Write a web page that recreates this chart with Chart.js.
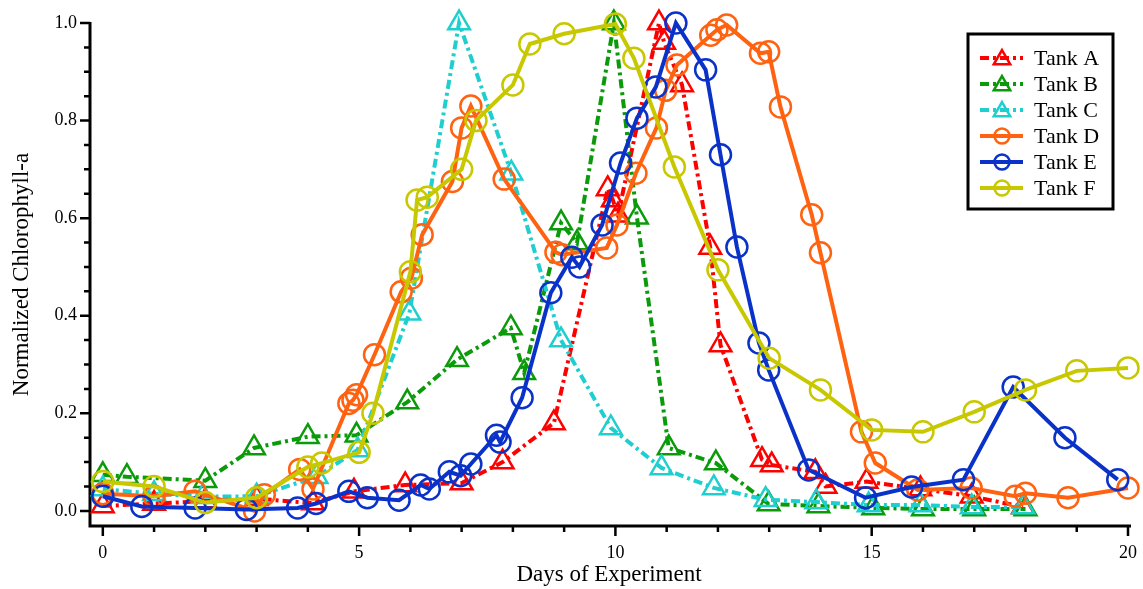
<!DOCTYPE html>
<html>
<head>
<meta charset="utf-8">
<title>Normalized Chlorophyll-a</title>
<script src="https://cdn.jsdelivr.net/npm/chart.js@4/dist/chart.umd.min.js"></script>
<style>
  html, body { margin: 0; padding: 0; background: #fff; }
  #wrap { width: 1143px; height: 589px; }
</style>
</head>
<body>
<div id="wrap"><canvas id="chl" width="1143" height="589"></canvas></div>
<script>
// days of experiment and normalized chlorophyll-a per tank
const tankA_days = [0, 1, 2, 3, 4.1, 4.9, 5.9, 7.0, 7.8, 8.8, 9.85, 9.95, 10.05, 10.85, 10.95, 11.3, 11.85, 12.05, 12.86, 13.05, 13.9, 14.1, 14.9, 15.95, 16.95, 17.95]
const tankA_chl  = [0.01, 0.015, 0.02, 0.025, 0.016, 0.04, 0.053, 0.057, 0.10, 0.18, 0.66, 0.637, 0.606, 1.0, 0.96, 0.873, 0.54, 0.34, 0.105, 0.094, 0.08, 0.05, 0.06, 0.045, 0.03, 0.008]

const tankB_days = [0, 0.47, 2, 2.95, 4.0, 4.95, 5.94, 6.91, 7.96, 8.22, 8.94, 9.25, 9.97, 10.42, 11.04, 11.96, 12.99, 13.96, 15.03, 16.0, 17.0, 18.0]
const tankB_chl  = [0.074, 0.07, 0.062, 0.129, 0.152, 0.155, 0.223, 0.31, 0.375, 0.283, 0.59, 0.549, 1.0, 0.602, 0.129, 0.098, 0.014, 0.01, 0.006, 0.004, 0.004, 0.004]

const tankC_days = [0, 1, 1.95, 3, 4.17, 4.97, 5.98, 6.95, 7.97, 8.94, 9.91, 10.9, 11.92, 12.93, 13.92, 14.94, 15.95, 16.95, 17.96]
const tankC_chl  = [0.045, 0.035, 0.029, 0.03, 0.07, 0.125, 0.405, 1.0, 0.692, 0.35, 0.17, 0.088, 0.047, 0.023, 0.018, 0.012, 0.012, 0.008, 0.008]

const tankD_days = [0, 1, 1.8, 2.96, 3.15, 3.84, 4.1, 4.8, 4.88, 4.95, 5.3, 5.82, 6.02, 6.23, 6.82, 7.0, 7.18, 7.83, 8.84, 8.96, 9.83, 10.03, 10.4, 10.8, 10.98, 11.2, 11.86, 11.98, 12.17, 12.83, 12.99, 13.22, 13.83, 14.0, 14.8, 15.07, 15.9, 16.94, 17.8, 18.0, 18.83, 20.0]
const tankD_chl  = [0.035, 0.03, 0.04, 0.0, 0.033, 0.085, 0.045, 0.22, 0.227, 0.238, 0.32, 0.449, 0.477, 0.566, 0.675, 0.785, 0.83, 0.68, 0.53, 0.525, 0.539, 0.586, 0.692, 0.785, 0.862, 0.914, 0.975, 0.986, 0.996, 0.938, 0.941, 0.828, 0.607, 0.529, 0.162, 0.098, 0.043, 0.047, 0.03, 0.036, 0.027, 0.047]

const tankE_days = [0, 0.76, 1.8, 2.8, 3.8, 4.16, 4.8, 5.16, 5.78, 6.2, 6.37, 6.76, 6.98, 7.18, 7.68, 7.75, 8.18, 8.74, 9.15, 9.3, 9.74, 10.1, 10.42, 10.79, 11.18, 11.76, 12.05, 12.37, 12.8, 12.99, 13.77, 14.88, 15.78, 16.79, 17.76, 18.77, 19.8]
const tankE_chl  = [0.03, 0.009, 0.006, 0.003, 0.006, 0.015, 0.04, 0.027, 0.022, 0.053, 0.045, 0.08, 0.072, 0.096, 0.155, 0.141, 0.232, 0.447, 0.52, 0.5, 0.586, 0.713, 0.805, 0.869, 1.0, 0.904, 0.73, 0.541, 0.344, 0.289, 0.084, 0.027, 0.049, 0.064, 0.254, 0.15, 0.064]

const tankF_days = [0, 1, 2, 3, 4, 4.27, 5, 5.27, 6, 6.13, 6.33, 7, 7.28, 8, 8.33, 9, 10, 10.36, 11.15, 12, 13, 14, 15, 16, 17, 18, 19, 20]
const tankF_chl  = [0.06, 0.05, 0.017, 0.027, 0.09, 0.098, 0.12, 0.2, 0.49, 0.637, 0.643, 0.70, 0.80, 0.873, 0.957, 0.978, 0.998, 0.928, 0.705, 0.494, 0.313, 0.248, 0.166, 0.162, 0.203, 0.248, 0.287, 0.293]

const xTicks = [0, 5, 10, 15, 20]
const yTicks = [0, 0.2, 0.4, 0.6, 0.8, 1.0]

const serif = '"Liberation Serif", "Times New Roman", serif'

function pts(days, vals){
    return days.map((d, i) => ({x: d, y: vals[i]}))
}

function tank(label, days, vals, color, marker, dash, idx){
    return {
        label: label,
        data: pts(days, vals),
        borderColor: color,
        backgroundColor: 'rgba(0,0,0,0)',
        borderWidth: 4,
        borderDash: dash,
        borderCapStyle: 'butt',
        tension: 0,
        pointStyle: marker,
        pointRadius: marker == 'triangle' ? 12.5 : 10.5,
        pointBorderWidth: 2.5,
        pointBorderColor: color,
        pointBackgroundColor: 'rgba(0,0,0,0)',
        pointHoverRadius: 10,
        clip: false,
        order: 6 - idx
    }
}

const dashDot = [9, 4, 3, 4]

const datasets = [
    tank('Tank A', tankA_days, tankA_chl, '#ff0000', 'triangle', dashDot, 0),
    tank('Tank B', tankB_days, tankB_chl, '#0a9a0a', 'triangle', dashDot, 1),
    tank('Tank C', tankC_days, tankC_chl, '#1fcfcf', 'triangle', dashDot, 2),
    tank('Tank D', tankD_days, tankD_chl, '#ff6210', 'circle', [], 3),
    tank('Tank E', tankE_days, tankE_chl, '#0a32c8', 'circle', [], 4),
    tank('Tank F', tankF_days, tankF_chl, '#c8c800', 'circle', [], 5)
]

// axis lines with outward major/minor tick marks
const axisFrame = {
    id: 'axisFrame',
    beforeDatasetsDraw(chart){
        const {ctx, chartArea: a, scales: {x, y}} = chart
        ctx.save()
        ctx.strokeStyle = '#000'
        ctx.lineWidth = 3
        ctx.beginPath()
        ctx.moveTo(a.left, a.top - 1)
        ctx.lineTo(a.left, a.bottom)
        ctx.lineTo(a.right + 3, a.bottom)
        ctx.stroke()
        ctx.lineWidth = 2.5
        ctx.beginPath()
        for (let d = 0; d <= 20; d++){
            const px = x.getPixelForValue(d)
            const len = d % 5 === 0 ? 10 : 6
            ctx.moveTo(px, a.bottom)
            ctx.lineTo(px, a.bottom + len)
        }
        for (let i = 0; i <= 20; i++){
            const py = y.getPixelForValue(i * 0.05)
            const len = i % 4 === 0 ? 10 : 6
            ctx.moveTo(a.left, py)
            ctx.lineTo(a.left - len, py)
        }
        ctx.stroke()
        ctx.restore()
    }
}

function marker(ctx, style, cx, cy, r){
    ctx.beginPath()
    if (style == 'triangle'){
        for (let k = 0; k < 3; k++){
            const ang = k * 2 * Math.PI / 3
            const px = cx + Math.sin(ang) * r
            const py = cy - Math.cos(ang) * r
            if (k == 0) ctx.moveTo(px, py); else ctx.lineTo(px, py)
        }
        ctx.closePath()
    } else {
        ctx.arc(cx, cy, r, 0, Math.PI * 2)
    }
    ctx.stroke()
}

// boxed legend in the upper right corner
const boxLegend = {
    id: 'boxLegend',
    afterDraw(chart){
        const ctx = chart.ctx
        const left = 968, top = 34, w = 145, h = 175
        ctx.save()
        ctx.fillStyle = '#fff'
        ctx.fillRect(left, top, w, h)
        ctx.strokeStyle = '#000'
        ctx.lineWidth = 3
        ctx.strokeRect(left, top, w, h)
        ctx.font = '22px ' + serif
        ctx.textBaseline = 'middle'
        chart.data.datasets.forEach((ds, i) => {
            const cy = 58 + i * 26
            ctx.strokeStyle = ds.borderColor
            ctx.lineWidth = 4
            ctx.setLineDash(ds.borderDash)
            ctx.beginPath()
            ctx.moveTo(980, cy)
            ctx.lineTo(1023, cy)
            ctx.stroke()
            ctx.setLineDash([])
            ctx.lineWidth = 2.5
            marker(ctx, ds.pointStyle, 1002, cy + (ds.pointStyle == 'triangle' ? 1.5 : 0), ds.pointStyle == 'triangle' ? 9.5 : 7.5)
            ctx.fillStyle = '#000'
            ctx.fillText(ds.label, 1034, cy + 1)
        })
        ctx.restore()
    }
}

new Chart(document.getElementById('chl'), {
    type: 'line',
    data: {datasets: datasets},
    options: {
        responsive: false,
        animation: false,
        layout: {padding: {top: 23, right: 13, left: 0, bottom: 0}},
        plugins: {legend: {display: false}, tooltip: {enabled: false}},
        scales: {
            x: {
                type: 'linear',
                min: -0.25,
                max: 20,
                grid: {display: false, drawTicks: false},
                border: {display: false},
                afterBuildTicks: s => { s.ticks = xTicks.map(v => ({value: v})) },
                afterFit: s => { s.height = 63; s.paddingLeft = 0; s.paddingRight = 0 },
                ticks: {color: '#000', padding: 16, font: {family: serif, size: 18}, maxRotation: 0, autoSkip: false},
                title: {display: true, text: 'Days of Experiment', color: '#000', font: {family: serif, size: 23}, padding: {top: 0, bottom: 0}}
            },
            y: {
                min: -0.031,
                max: 1.0,
                grid: {display: false, drawTicks: false},
                border: {display: false},
                afterBuildTicks: s => { s.ticks = yTicks.map(v => ({value: v})) },
                afterFit: s => { s.width = 90; s.paddingTop = 0; s.paddingBottom = 0 },
                ticks: {color: '#000', padding: 13, font: {family: serif, size: 18}, callback: v => v.toFixed(1)},
                title: {display: true, text: 'Normalized Chlorophyll-a', color: '#000', font: {family: serif, size: 23}, padding: {top: 8, bottom: 0}}
            }
        }
    },
    plugins: [axisFrame, boxLegend]
})
</script>
</body>
</html>
